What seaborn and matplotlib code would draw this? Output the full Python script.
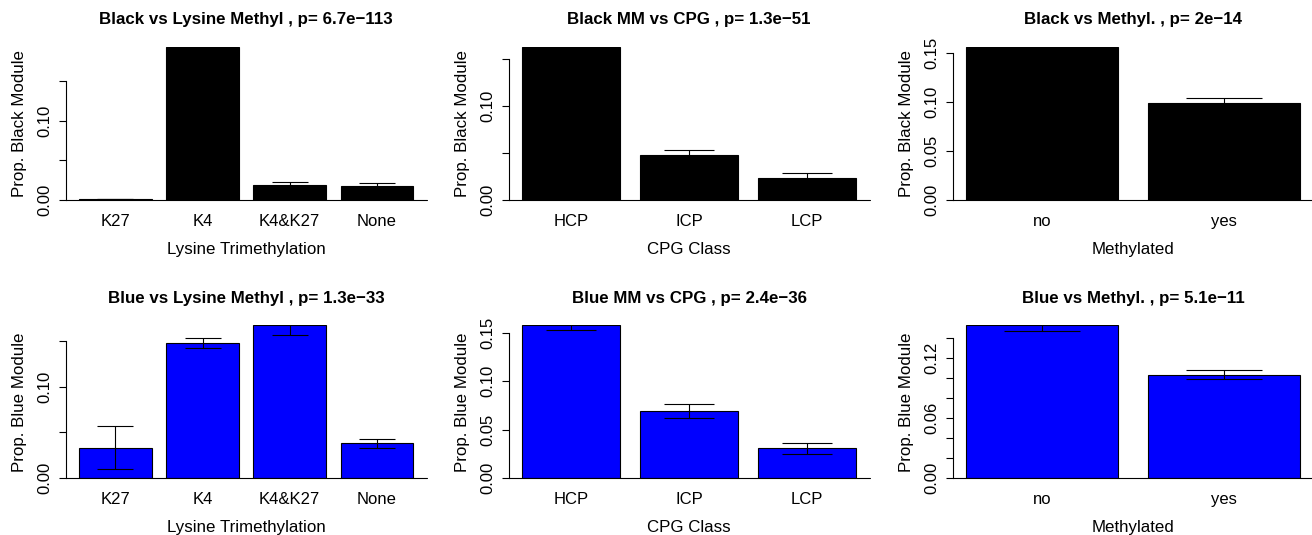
import numpy as np
import seaborn as sns
import matplotlib.pyplot as plt

# Lysine trimethylation panels
lys_cats = ['K27', 'K4', 'K4&K27', 'None']
black_lys = [0.0005, 0.194, 0.019, 0.018]
black_lys_se = [0.0, 0.001, 0.003, 0.003]
blue_lys = [0.0332, 0.1474, 0.1668, 0.038]
blue_lys_se = [0.0235, 0.0051, 0.0106, 0.0049]

# CPG class panels
cpg_cats = ['HCP', 'ICP', 'LCP']
black_cpg = [0.163, 0.0475, 0.0234]
black_cpg_se = [0.001, 0.0053, 0.0046]
blue_cpg = [0.1576, 0.069, 0.0307]
blue_cpg_se = [0.0052, 0.0072, 0.0057]

# methylation panels
meth_cats = ['no', 'yes']
black_meth = [0.1568, 0.0996]
black_meth_se = [0.001, 0.0044]
blue_meth = [0.1523, 0.1033]
blue_meth_se = [0.006, 0.0049]

titles = [
    'Black vs Lysine Methyl , p= 6.7e\u2212113',
    'Black MM vs CPG , p= 1.3e\u221251',
    'Black vs Methyl. , p= 2e\u221214',
    'Blue vs Lysine Methyl , p= 1.3e\u221233',
    'Blue MM vs CPG , p= 2.4e\u221236',
    'Blue vs Methyl. , p= 5.1e\u221211',
]
xlabels = ['Lysine Trimethylation', 'CPG Class', 'Methylated']

ticks_a = [0.0, 0.05, 0.10, 0.15]
ticks_b = [0.0, 0.02, 0.04, 0.06, 0.08, 0.10, 0.12, 0.14]
panels = [
    (lys_cats, black_lys, black_lys_se, 'black', 'Prop. Black Module', ticks_a, ['0.00', '', '0.10', '']),
    (cpg_cats, black_cpg, black_cpg_se, 'black', 'Prop. Black Module', ticks_a, ['0.00', '', '0.10', '']),
    (meth_cats, black_meth, black_meth_se, 'black', 'Prop. Black Module', ticks_a, ['0.00', '0.05', '0.10', '0.15']),
    (lys_cats, blue_lys, blue_lys_se, '#0000ff', 'Prop. Blue Module', ticks_a, ['0.00', '', '0.10', '']),
    (cpg_cats, blue_cpg, blue_cpg_se, '#0000ff', 'Prop. Blue Module', ticks_a, ['0.00', '0.05', '0.10', '0.15']),
    (meth_cats, blue_meth, blue_meth_se, '#0000ff', 'Prop. Blue Module', ticks_b, ['0.00', '', '', '0.06', '', '', '0.12', '']),
]

sns.set_style('white')
plt.rcParams['font.family'] = ['Liberation Sans', 'DejaVu Sans']
plt.rcParams.update({'text.color': 'black', 'axes.labelcolor': 'black',
                     'xtick.color': 'black', 'ytick.color': 'black'})

W, H = 1312, 535
fig = plt.figure(figsize=(W / 100, H / 100), dpi=100)
lefts = [65.6, 508.6, 952.6]
tops = [46.7, 325.3]
pw, ph = 361, 153

bw = 1 / 1.2
for i, (cats, vals, se, col, ylab, ticks, tlabels) in enumerate(panels):
    r, c = divmod(i, 3)
    ax = fig.add_axes([lefts[c] / W, 1 - (tops[r] + ph) / H, pw / W, ph / H])
    sns.barplot(x=cats, y=vals, color=col, saturation=1, width=bw, edgecolor='black',
                linewidth=0.8, errorbar=None, ax=ax)
    n = len(cats)
    span = n - 1 + bw
    ax.set_xlim(-bw / 2 - 0.04 * span, n - 1 + bw / 2 + 0.04 * span)
    ax.set_ylim(0, max(vals))
    px_per_unit = pw / (span * 1.08)
    cap = 0.25 * bw * px_per_unit * 0.72
    ax.errorbar(range(n), vals, yerr=se, fmt='none', ecolor='black', elinewidth=0.8,
                capsize=cap, capthick=0.8)
    ax.axhline(0, color='black', lw=0.8, clip_on=False)
    for s in ['top', 'right', 'bottom']:
        ax.spines[s].set_visible(False)
    ax.spines['left'].set_bounds(ticks[0], ticks[-1])
    ax.spines['left'].set_linewidth(0.8)
    ax.spines['left'].set_color('black')
    ax.set_yticks(ticks)
    ax.set_yticklabels(tlabels)
    for lbl in ax.get_yticklabels():
        lbl.set_rotation(90)
        lbl.set_va('center')
    ax.tick_params(axis='y', length=5, width=0.8, pad=4.5, labelsize=12, left=True)
    ax.tick_params(axis='x', length=0, pad=10, labelsize=12)
    ax.set_title(titles[i], fontsize=12.2, fontweight='bold', pad=16)
    ax.set_xlabel(xlabels[c], fontsize=12.2, labelpad=9.5)
    ax.set_ylabel(ylab, fontsize=12.2, labelpad=7.5)

fig.savefig('out.png', dpi=100)
